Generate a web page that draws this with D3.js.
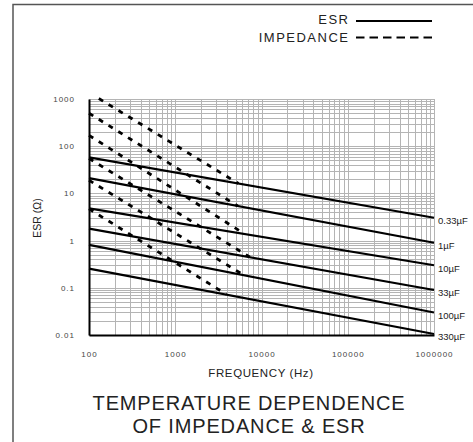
<!DOCTYPE html>
<html>
<head>
<meta charset="utf-8">
<script src="https://cdn.jsdelivr.net/npm/d3@7"></script>
<style>
  html, body { margin: 0; padding: 0; background: #fff; }
  svg { display: block; font-family: "Liberation Sans", Arial, sans-serif; }
  .grid line { stroke: #b4b4b4; stroke-width: 1; }
  .axis .domain { stroke: #000; stroke-width: 2; }
  .axis text { font-size: 8px; fill: #444; letter-spacing: 1px; }
  .esr { fill: none; stroke: #000; stroke-width: 2.2; }
  .imp { fill: none; stroke: #000; stroke-width: 2.8; stroke-dasharray: 5 6.5; }
</style>
</head>
<body>
<svg id="chart" width="473" height="442"></svg>
<script>
// ---- data ----
const capLabels = ['0.33µF', '1µF', '10µF', '33µF', '100µF', '330µF'];

// ESR (solid) : value at 100 Hz and at 1 MHz
const esrFreq = [100, 1000000];
const esrValues = [
    [58, 3.05],
    [21, 0.9],
    [4.8, 0.30],
    [1.8, 0.09],
    [0.81, 0.030],
    [0.254, 0.0105]
];

// IMPEDANCE (dashed) : start at 100 Hz, end where it joins its ESR line
const impFreq = [
    [100, 5400],
    [100, 5300],
    [100, 6300],
    [100, 7300],
    [100, 6400],
    [100, 3900]
];
const impValues = [
    [1370, 16.2],
    [500, 5.4],
    [170, 1.4],
    [55, 0.45],
    [19, 0.18],
    [4.7, 0.073]
];

const xTicks = [100, 1000, 10000, 100000, 1000000];
const xTickLabels = ['100', '1000', '10000', '100000', '1000000'];
const yTicks = [0.01, 0.1, 1, 10, 100, 1000];
const yTickLabels = ['0.01', '0.1', '1', '10', '100', '1000'];

// ---- layout ----
const plot = { left: 89, right: 434, top: 99, bottom: 335 };

const svg = d3.select('#chart');

const x = d3.scaleLog().domain([100, 1000000]).range([plot.left, plot.right]);
const y = d3.scaleLog().domain([0.01, 1000]).range([plot.bottom, plot.top]);

// clip for the curves (a hair above the top grid line)
svg.append('defs')
    .append('clipPath')
    .attr('id', 'plot-clip')
    .append('rect')
    .attr('x', plot.left - 2)
    .attr('y', plot.top - 2)
    .attr('width', plot.right - plot.left + 4)
    .attr('height', plot.bottom - plot.top + 4);

// outer frame (top + left only)
svg.append('path')
    .attr('d', 'M13,442 L13,4.5 L473,4.5')
    .attr('fill', 'none')
    .attr('stroke', '#555')
    .attr('stroke-width', 1.5);

// grid
const grid = svg.append('g').attr('class', 'grid');
grid.selectAll('.vx')
    .data(x.ticks())
    .enter()
    .append('line')
    .attr('x1', d => Math.round(x(d)) + 0.5)
    .attr('x2', d => Math.round(x(d)) + 0.5)
    .attr('y1', plot.top)
    .attr('y2', plot.bottom);
grid.selectAll('.hy')
    .data(y.ticks())
    .enter()
    .append('line')
    .attr('x1', plot.left)
    .attr('x2', plot.right)
    .attr('y1', d => Math.round(y(d)) + 0.5)
    .attr('y2', d => Math.round(y(d)) + 0.5);

// axes
svg.append('g')
    .attr('class', 'axis')
    .attr('transform', `translate(0,${plot.bottom})`)
    .call(d3.axisBottom(x)
        .tickValues(xTicks)
        .tickFormat((d, i) => xTickLabels[i])
        .tickSize(0)
        .tickPadding(16));

svg.append('g')
    .attr('class', 'axis')
    .attr('transform', `translate(${plot.left},0)`)
    .call(d3.axisLeft(y)
        .tickValues(yTicks)
        .tickFormat((d, i) => yTickLabels[i])
        .tickSize(0)
        .tickPadding(14));

svg.selectAll('.axis .domain').attr('stroke', '#000').attr('stroke-width', 2);

// series
const line = d3.line().x(d => x(d[0])).y(d => y(d[1]));
const curves = svg.append('g').attr('clip-path', 'url(#plot-clip)');

esrValues.forEach((vals, i) => {
    const pts = vals.map((v, j) => [esrFreq[j], v]);
    curves.append('path').attr('class', 'esr').attr('d', line(pts));

    svg.append('text')
        .attr('x', plot.right + 4)
        .attr('y', y(vals[1]) + 3)
        .attr('dy', '0.35em')
        .attr('font-size', '9.5px')
        .attr('fill', '#222')
        .text(capLabels[i]);
});

impValues.forEach((vals, i) => {
    const pts = vals.map((v, j) => [impFreq[i][j], v]);
    curves.append('path').attr('class', 'imp').attr('d', line(pts));
});

// axis titles
svg.append('text')
    .attr('transform', 'translate(41,218) rotate(-90)')
    .attr('text-anchor', 'middle')
    .attr('font-size', '10.5px')
    .attr('fill', '#222')
    .text('ESR (Ω)');

svg.append('text')
    .attr('x', 261)
    .attr('y', 377)
    .attr('text-anchor', 'middle')
    .attr('font-size', '11.5px')
    .attr('letter-spacing', '0.6px')
    .attr('fill', '#222')
    .text('FREQUENCY (Hz)');

// legend
svg.append('text')
    .attr('x', 349.5).attr('y', 24)
    .attr('text-anchor', 'end')
    .attr('font-size', '13px')
    .attr('letter-spacing', '1.5px')
    .attr('fill', '#222')
    .text('ESR');
svg.append('line')
    .attr('x1', 356).attr('x2', 432)
    .attr('y1', 21).attr('y2', 21)
    .attr('stroke', '#000').attr('stroke-width', 2);

svg.append('text')
    .attr('x', 349.5).attr('y', 41.7)
    .attr('text-anchor', 'end')
    .attr('font-size', '13px')
    .attr('letter-spacing', '1.5px')
    .attr('fill', '#222')
    .text('IMPEDANCE');
svg.append('line')
    .attr('x1', 356).attr('x2', 432)
    .attr('y1', 37.5).attr('y2', 37.5)
    .attr('stroke', '#000').attr('stroke-width', 2)
    .attr('stroke-dasharray', '8.5 5');

// title
const title = svg.append('text')
    .attr('text-anchor', 'middle')
    .attr('font-size', '20px')
    .attr('letter-spacing', '0.85px')
    .attr('fill', '#222');
title.append('tspan').attr('x', 249).attr('y', 410).text('TEMPERATURE DEPENDENCE');
title.append('tspan').attr('x', 249).attr('y', 432.7).text('OF IMPEDANCE & ESR');
</script>
</body>
</html>
